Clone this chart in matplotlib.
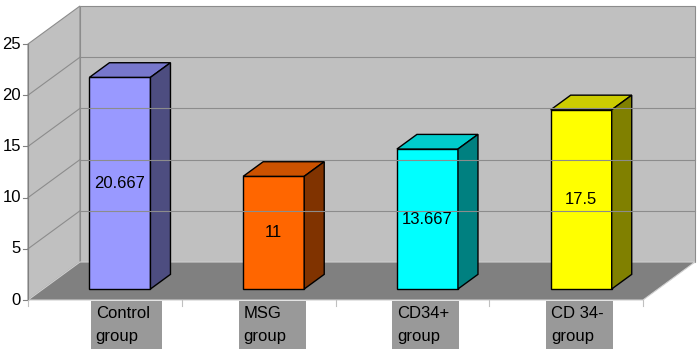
import matplotlib.pyplot as plt
from matplotlib.patches import Polygon, Rectangle

plt.rcParams["font.family"] = ["Liberation Sans", "DejaVu Sans"]

# data
groups = ["Control\ngroup", "MSG\ngroup", "CD34+\ngroup", "CD 34-\ngroup"]
values = [20.667, 11, 13.667, 17.5]
value_labels = ["20.667", "11", "13.667", "17.5"]
front_colors = ["#9999FF", "#FF6600", "#00FFFF", "#FFFF00"]
top_colors = ["#7777CC", "#CC5200", "#00CCCC", "#CCCC00"]
side_colors = ["#4D4D80", "#803300", "#008080", "#808000"]
yticks = [0, 5, 10, 15, 20, 25]

# 3d look: depth offset in data units
dx, dy = 0.338, 3.71
f1, f2 = 0.29, 0.675      # bar front / back depth fractions
bw = 0.397                # bar width in category units
ymax = 25

fig = plt.figure(figsize=(7, 3.49), dpi=100)
ax = fig.add_axes([0, 0, 1, 1])
ax.set_xlim(-0.1821, 4.3707)
ax.set_ylim(-4.785, 29.297)
ax.axis("off")

wall = "#C0C0C0"
grid = "#8C8C8C"

# walls and floor
ax.add_patch(Polygon([(0, 0), (0, ymax), (dx, ymax + dy), (dx, dy)],
                     facecolor=wall, edgecolor=grid, lw=0.8))
ax.add_patch(Polygon([(dx, dy), (4 + dx, dy), (4 + dx, ymax + dy), (dx, ymax + dy)],
                     facecolor=wall, edgecolor=grid, lw=0.8))
ax.add_patch(Polygon([(0, 0), (4, 0), (4 + dx, dy), (dx, dy)],
                     facecolor="#808080", edgecolor="#D0D0D0", lw=0.8))

# gridlines
for v in yticks[1:-1]:
    ax.plot([0, dx], [v, v + dy], color=grid, lw=0.8)
    ax.plot([dx, 4 + dx], [v + dy, v + dy], color=grid, lw=0.8)

# value axis
ax.plot([0, 0], [0, ymax], color="#808080", lw=0.8)
for v in yticks:
    ax.plot([-0.03, 0], [v, v], color="#808080", lw=0.8)
    ax.text(-0.045, v, str(v), ha="right", va="center", fontsize=12)

# category ticks along front floor edge
for i in range(len(groups) + 1):
    ax.plot([i, i], [0, -0.6], color="#C0C0C0", lw=0.8)

# bars
for i, (v, lab) in enumerate(zip(values, value_labels)):
    x0 = i + 0.5 - bw / 2 + f1 * dx
    y0 = f1 * dy
    ddx = (f2 - f1) * dx
    ddy = (f2 - f1) * dy
    front = [(x0, y0), (x0 + bw, y0), (x0 + bw, y0 + v), (x0, y0 + v)]
    top = [(x0, y0 + v), (x0 + bw, y0 + v), (x0 + bw + ddx, y0 + v + ddy), (x0 + ddx, y0 + v + ddy)]
    side = [(x0 + bw, y0), (x0 + bw + ddx, y0 + ddy), (x0 + bw + ddx, y0 + v + ddy), (x0 + bw, y0 + v)]
    ax.add_patch(Polygon(front, facecolor=front_colors[i], edgecolor="black", lw=1))
    ax.add_patch(Polygon(top, facecolor=top_colors[i], edgecolor="black", lw=1))
    ax.add_patch(Polygon(side, facecolor=side_colors[i], edgecolor="black", lw=1))
    ax.text(x0 + bw / 2, y0 + v / 2, lab, ha="center", va="center", fontsize=12)

# category labels on gray boxes
for i, g in enumerate(groups):
    left = i + 0.37 if i else i + 0.41
    width = 0.436 if i else 0.46
    ax.add_patch(Rectangle((left, -5), width, 4.9, facecolor="#999999", edgecolor="none"))
    ax.text(left + 0.03, -0.6, g, ha="left", va="top", fontsize=12, linespacing=1.65)

fig.savefig("out.png", dpi=100)
